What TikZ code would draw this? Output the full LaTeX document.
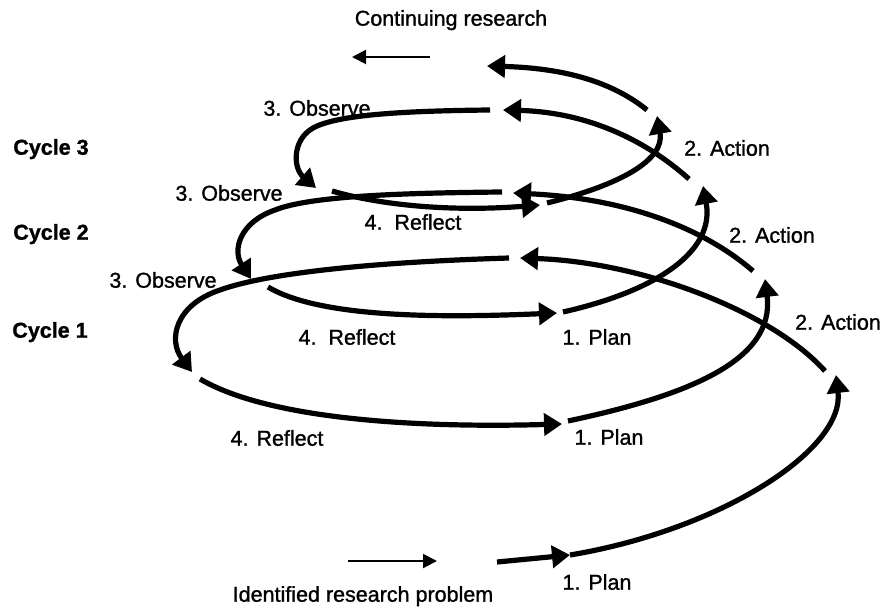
\documentclass[tikz,border=0pt]{standalone}
\usepackage{fontspec}
\setmainfont{Liberation Sans}[RawFeature={embolden=1.2}]
\usetikzlibrary{arrows.meta}
\begin{document}
\begin{tikzpicture}[x=0.5pt,y=-0.5pt,line cap=butt,line join=miter,font=\fontsize{10.75}{13}\selectfont]
	\tikzset{loop/.style={line width=2.6pt,-{Triangle[length=9pt,width=11pt]}},
		hint/.style={line width=1pt,-{Triangle[length=7pt,width=7pt]}},
		lbl/.style={inner sep=0pt,text height=7.7pt,text depth=0pt}}
	\useasboundingbox (0,0) rectangle (882,609);
	% diem dau va mui ten cua tung vong
	\foreach \n/\x/\y in {in1/497/562,P1/570/555,A1/836/375,B1/825/371,T1/520/258,U1/509/258,V1/220/290,O1/192/372,Q1/200/379,R1/562/424,
		P2/568/421,A2/765/279,B2/753/271,T2/513/193,U2/502/192,V2/275/210,O2/251/279,Q2/268/287,R2/557/313,
		P3/563/312,A3/703/186,B3/689/179,T3/503/110,U3/490/110,V3/313/128,O3/316/188,Q3/332/191,R3/540/205,
		P4/547/203,A4/657/116,B4/647/110,T4/487/66,
		cr1/430/57,cr2/352/57,ip1/348/561,ip2/437/561}
		{\coordinate (\n) at (\x,\y);}
	% vong 1
	\draw[loop] (in1)--(P1);
	\draw[loop] (P1) .. controls (720,530) and (845,450) .. (A1);
	\draw[loop] (B1) .. controls (770,310) and (640,262) .. (T1);
	\draw[loop] (U1) .. controls (380,262) and (270,272) .. (V1) .. controls (175,305) and (168,340) .. (O1);
	\draw[loop] (Q1) .. controls (270,420) and (420,428) .. (R1);
	% vong 2
	\draw[loop] (P2) .. controls (690,395) and (775,360) .. (A2);
	\draw[loop] (B2) .. controls (700,225) and (620,198) .. (T2);
	\draw[loop] (U2) .. controls (400,193) and (310,196) .. (V2) .. controls (240,222) and (232,250) .. (O2);
	\draw[loop] (Q2) .. controls (320,318) and (440,318) .. (R2);
	% vong 3
	\draw[loop] (P3) .. controls (660,290) and (715,250) .. (A3);
	\draw[loop] (B3) .. controls (640,135) and (580,112) .. (T3);
	\draw[loop] (U3) .. controls (390,111) and (335,116) .. (V3) .. controls (292,140) and (293,168) .. (O3);
	\draw[loop] (Q3) .. controls (380,205) and (450,212) .. (R3);
	% tiep tuc
	\draw[loop] (P4) .. controls (620,185) and (665,160) .. (A4);
	\draw[loop] (B4) .. controls (610,80) and (560,68) .. (T4);
	\draw[hint] (cr1)--(cr2);
	\draw[hint] (ip1)--(ip2);
	\foreach \n/\x/\y/\t in {cont/451/18/{Continuing research},ident/363/594/{Identified research problem},
		obs3/317/108/{3. Observe},obs2/229/193/{3. Observe},obs1/163/280/{3. Observe},
		act3/727/148/{2. Action},act2/772/235/{2. Action},act1/838/322/{2. Action},
		ref3/413/222/{4.\ \ Reflect},ref2/347/337/{4.\ \ Reflect},ref1/277/438/{4. Reflect},
		plan3/597/337/{1. Plan},plan2/609/437/{1. Plan},plan1/597/582/{1. Plan},
		cyc3/51/147/{\textbf{Cycle 3}},cyc2/51/232/{\textbf{Cycle 2}},cyc1/50/330/{\textbf{Cycle 1}}}
		{\node[lbl] (\n) at (\x,\y) {\t};}
\end{tikzpicture}
\end{document}
